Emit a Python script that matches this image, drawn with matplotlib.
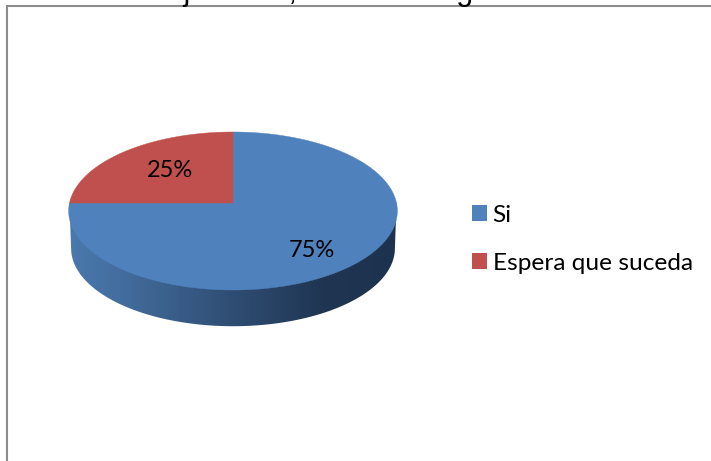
import numpy as np
import matplotlib
matplotlib.use("Agg")
import matplotlib.pyplot as plt
from matplotlib.patches import Polygon, Patch
from matplotlib.colors import LinearSegmentedColormap

categories = ["Si", "Espera que suceda"]
values = [75, 25]
value_labels = ["75%", "25%"]
colors = ["#4F81BD", "#C0504D"]
cut_title = "Orientar a los jóvenes, con estrategias de enseñanza para la vida"

W, H = 711, 461
fig = plt.figure(figsize=(W / 100, H / 100), dpi=100, facecolor="white")
ax = fig.add_axes([0, 0, 1, 1])
ax.set_xlim(0, W)
ax.set_ylim(H, 0)
ax.axis("off")

# perspective disc: apex at (cx, cy); far edge compressed, near edge enlarged
cx, cy = 233.0, 203.0
RX, RY, K = 163.5, 78.2, 0.1013


def rim(a, dy=0.0, s=1.0):
    x, y = np.sin(a), np.cos(a)
    d = 1 + K * y
    return cx + s * RX * x / d, cy + dy - s * RY * y / d


frac = np.array(values, dtype=float) / sum(values)
edges = np.concatenate([[0], np.cumsum(frac)]) * 2 * np.pi

# side wall with horizontal shading
a_low = np.radians(np.linspace(97, 263, 240))
low_x, low_y = rim(a_low, dy=37.5, s=0.985)
t1 = rim(np.radians(90.0))
t2 = rim(np.radians(270.0))
wall_xy = np.column_stack([
    np.r_[t1[0], low_x, t2[0]],
    np.r_[t1[1], low_y, t2[1]],
])
wall = Polygon(wall_xy, closed=True, facecolor="none", edgecolor="none", zorder=1)
ax.add_patch(wall)
shade = LinearSegmentedColormap.from_list(
    "wall",
    [(0.0, "#4A79AE"), (0.15, "#436E9F"), (0.5, "#2F4D73"),
     (0.78, "#1F3551"), (1.0, "#1D324E")],
)
img = ax.imshow(np.linspace(0, 1, 330)[None, :], cmap=shade, aspect="auto",
                extent=[68, 398, 330, 200], zorder=1, interpolation="bilinear")
img.set_clip_path(wall)
ax.set_xlim(0, W)
ax.set_ylim(H, 0)

# top face slices
for i, (c, col) in enumerate(zip(categories, colors)):
    a = np.linspace(edges[i], edges[i + 1], 240)
    x, y = rim(a)
    ax.add_patch(Polygon(np.column_stack([np.r_[cx, x], np.r_[cy, y]]), closed=True,
                         facecolor=col, edgecolor=col, linewidth=0.3, zorder=2,
                         label=c))

# data labels
for lab, pos in zip(value_labels, [(312, 250), (170, 170)]):
    ax.text(pos[0], pos[1], lab, fontsize=17, family="Lato", color="black",
            ha="center", va="center", zorder=3)

# chart frame, running off the page on right and bottom
ax.plot([7, 7, W + 5], [H + 5, 6.5, 6.5], color="#8C8C8C", lw=1.5,
        solid_joinstyle="miter", zorder=4)

# page text cut by the top of the picture
ax.text(-8, 0.3, cut_title, fontsize=22, family="Liberation Sans", color="black",
        ha="left", va="baseline", clip_on=True, zorder=5)

handles = [Patch(facecolor=col, edgecolor="none") for col in colors]
fs = 17.6
px = fs * 100 / 72
leg = ax.legend(handles, categories, loc="upper left",
                bbox_to_anchor=(471.5 / W, 1 - 204.5 / H), frameon=False,
                prop={"family": "Lato", "size": fs},
                handlelength=15 / px, handleheight=15 / px, handletextpad=6 / px,
                labelspacing=(48 - px + 3.5) / px, borderpad=0, borderaxespad=0)

fig.savefig("out.png", dpi=100, facecolor="white")
